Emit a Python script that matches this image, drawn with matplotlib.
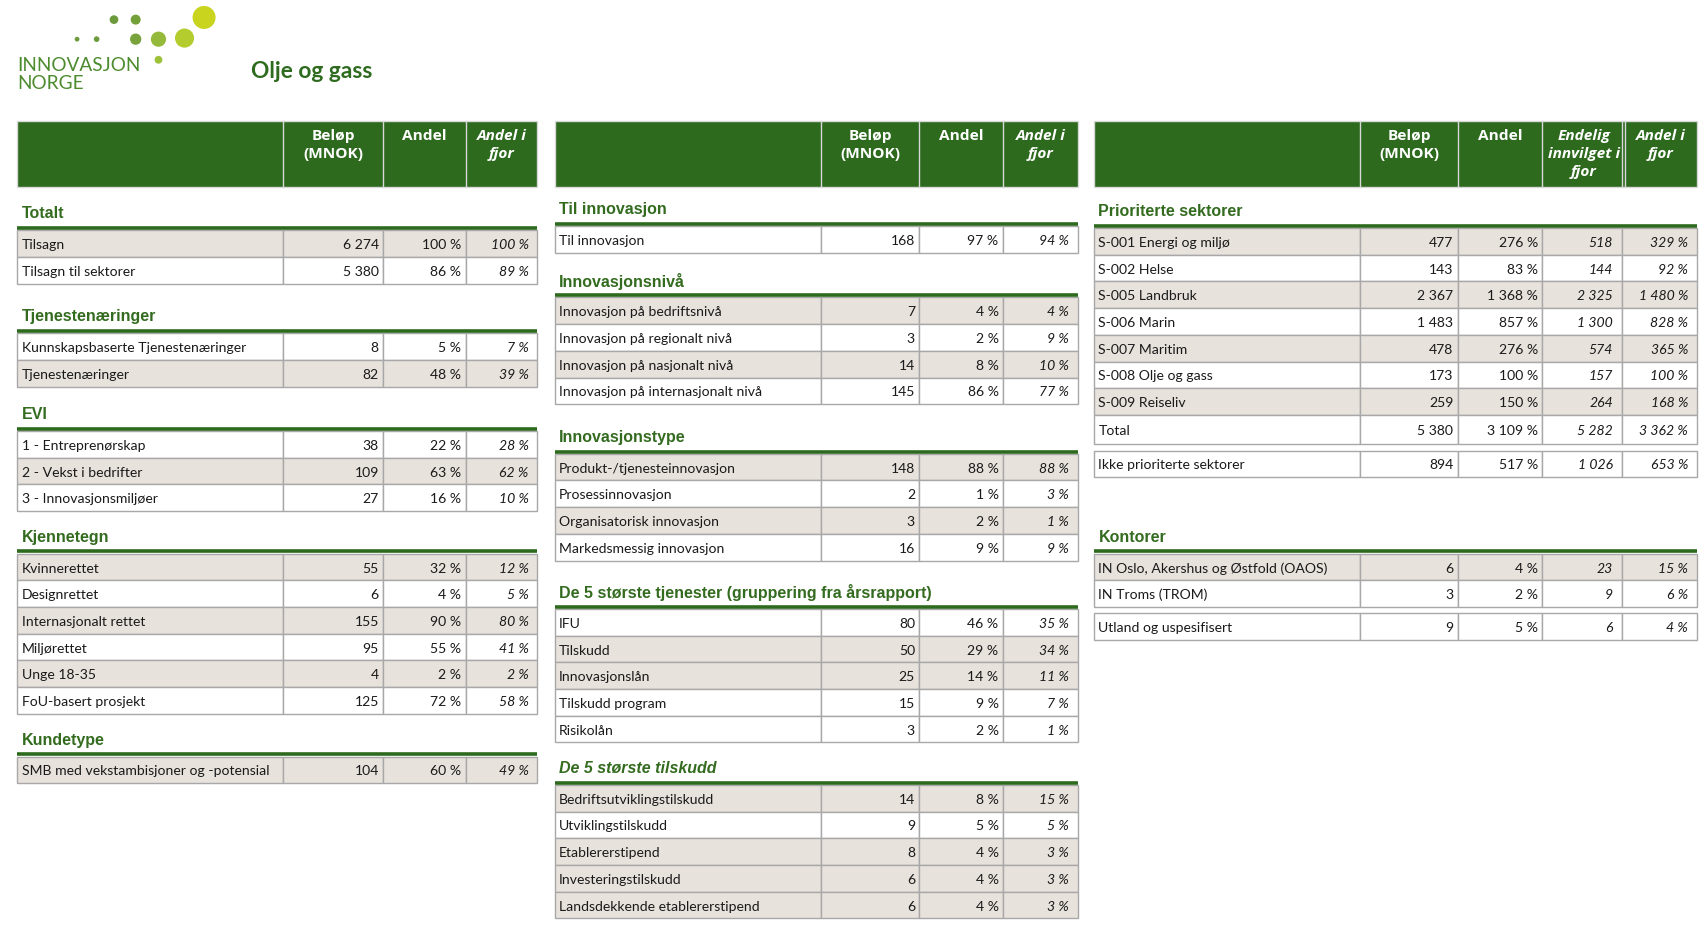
import matplotlib
matplotlib.use("Agg")
import matplotlib.pyplot as plt
from matplotlib.patches import Rectangle, Circle

# ---- data ----
totalt_labels = ["Tilsagn", "Tilsagn til sektorer"]
totalt_belop = [6274, 5380]
totalt_andel = [100, 86]
totalt_fjor = [100, 89]

tjen_labels = ["Kunnskapsbaserte Tjenestenæringer", "Tjenestenæringer"]
tjen_belop = [8, 82]
tjen_andel = [5, 48]
tjen_fjor = [7, 39]

evi_labels = ["1 - Entreprenørskap", "2 - Vekst i bedrifter", "3 - Innovasjonsmiljøer"]
evi_belop = [38, 109, 27]
evi_andel = [22, 63, 16]
evi_fjor = [28, 62, 10]

kjenn_labels = ["Kvinnerettet", "Designrettet", "Internasjonalt rettet",
                "Miljørettet", "Unge 18-35", "FoU-basert prosjekt"]
kjenn_belop = [55, 6, 155, 95, 4, 125]
kjenn_andel = [32, 4, 90, 55, 2, 72]
kjenn_fjor = [12, 5, 80, 41, 2, 58]

kunde_labels = ["SMB med vekstambisjoner og -potensial"]
kunde_belop = [104]
kunde_andel = [60]
kunde_fjor = [49]

tilinn_labels = ["Til innovasjon"]
tilinn_belop = [168]
tilinn_andel = [97]
tilinn_fjor = [94]

nivaa_labels = ["Innovasjon på bedriftsnivå", "Innovasjon på regionalt nivå",
                "Innovasjon på nasjonalt nivå", "Innovasjon på internasjonalt nivå"]
nivaa_belop = [7, 3, 14, 145]
nivaa_andel = [4, 2, 8, 86]
nivaa_fjor = [4, 9, 10, 77]

type_labels = ["Produkt-/tjenesteinnovasjon", "Prosessinnovasjon",
               "Organisatorisk innovasjon", "Markedsmessig innovasjon"]
type_belop = [148, 2, 3, 16]
type_andel = [88, 1, 2, 9]
type_fjor = [88, 3, 1, 9]

tjenester_labels = ["IFU", "Tilskudd", "Innovasjonslån", "Tilskudd program", "Risikolån"]
tjenester_belop = [80, 50, 25, 15, 3]
tjenester_andel = [46, 29, 14, 9, 2]
tjenester_fjor = [35, 34, 11, 7, 1]

tilskudd_labels = ["Bedriftsutviklingstilskudd", "Utviklingstilskudd", "Etablererstipend",
                   "Investeringstilskudd", "Landsdekkende etablererstipend"]
tilskudd_belop = [14, 9, 8, 6, 6]
tilskudd_andel = [8, 5, 4, 4, 4]
tilskudd_fjor = [15, 5, 3, 3, 3]

sektor_labels = ["S-001 Energi og miljø", "S-002 Helse", "S-005 Landbruk", "S-006 Marin",
                 "S-007 Maritim", "S-008 Olje og gass", "S-009 Reiseliv", "Total"]
sektor_belop = [477, 143, 2367, 1483, 478, 173, 259, 5380]
sektor_andel = [276, 83, 1368, 857, 276, 100, 150, 3109]
sektor_endelig = [518, 144, 2325, 1300, 574, 157, 264, 5282]
sektor_fjor = [329, 92, 1480, 828, 365, 100, 168, 3362]

ikke_labels = ["Ikke prioriterte sektorer"]
ikke_belop = [894]
ikke_andel = [517]
ikke_endelig = [1026]
ikke_fjor = [653]

kontor_labels = ["IN Oslo, Akershus og Østfold (OAOS)", "IN Troms (TROM)"]
kontor_belop = [6, 3]
kontor_andel = [4, 2]
kontor_endelig = [23, 9]
kontor_fjor = [15, 6]

utland_labels = ["Utland og uspesifisert"]
utland_belop = [9]
utland_andel = [5]
utland_endelig = [6]
utland_fjor = [4]

# ---- style ----
GREEN = "#2D6A1E"
TITLE_GREEN = "#336B1F"
SHADE = "#E8E2DC"
GRID = "#A8A8A8"
TXT = "#1A1A1A"
BODY_FONT = "Lato"
BODY_SIZE = 12.9
ROW_H = 24.6
PT = 0.7816  # points per layout pixel

fig = plt.figure(figsize=(17.02, 9.28), dpi=100)
ax = fig.add_axes([0, 0, 1, 1])
ax.set_xlim(0, 1568)
ax.set_ylim(855, 0)
ax.axis("off")


def fmt(v, pct=False):
    s = f"{v:,}".replace(",", " ")
    return s + " %" if pct else s


def header(cols, texts, italic, top=112, bottom=173, extra=None):
    ax.add_patch(Rectangle((cols[0], top), cols[-1] - cols[0], bottom - top,
                           facecolor=GREEN, edgecolor="#D8D8D8", lw=1))
    for x in cols[1:-1]:
        ax.plot([x, x], [top, bottom], color="#D8D8D8", lw=1)
    if extra:
        ax.plot([extra, extra], [top, bottom], color="#D8D8D8", lw=1)
    for i, (t, it) in enumerate(zip(texts, italic)):
        x0 = cols[i + 1]
        x1 = extra if (extra and i == len(texts) - 2) else cols[i + 2]
        if extra and i == len(texts) - 1:
            x0 = extra
        ax.text((x0 + x1) / 2, top + 7, t, ha="center", va="top", color="white",
                fontsize=14.2 * PT, fontweight="bold", family="Open Sans",
                style="italic" if it else "normal", linespacing=1.36)


def section(title, x0, x1, y_first, italic=False):
    ax.text(x0 + 4, y_first - 16, title, ha="left", va="center", color=TITLE_GREEN,
            fontsize=14.8 * PT, fontweight="bold", family="Liberation Sans",
            style="italic" if italic else "normal")
    ax.plot([x0, x1], [y_first - 2, y_first - 2], color=GREEN, lw=2.6,
            solid_capstyle="butt")


def table(cols, y_first, labels, values, shade, italic_cols, last_h=None):
    y = y_first
    n = len(labels)
    pads = [8 if it else 4 for it in italic_cols]
    for r in range(n):
        h = last_h if (last_h and r == n - 1) else ROW_H
        fc = SHADE if shade[r] else "white"
        for c in range(len(cols) - 1):
            ax.add_patch(Rectangle((cols[c], y), cols[c + 1] - cols[c], h,
                                   facecolor=fc, edgecolor=GRID, lw=1.0))
        ym = y + h / 2 + 0.5
        ax.text(cols[0] + 4, ym, labels[r], ha="left", va="center", color=TXT,
                fontsize=BODY_SIZE * PT, family=BODY_FONT)
        for c, (vals, pct) in enumerate(values):
            ax.text(cols[c + 2] - pads[c], ym, fmt(vals[r], pct), ha="right", va="center",
                    color=TXT, fontsize=BODY_SIZE * PT, family=BODY_FONT,
                    style="italic" if italic_cols[c] else "normal")
        y += h


# ---- logo ----
logo_x = [71, 89, 105, 125, 125, 146, 170, 188, 146]
logo_y = [37, 37, 19, 19, 37, 37, 36, 17, 56]
logo_r = [2.2, 2.6, 4.0, 4.6, 5.2, 7.0, 8.8, 10.6, 3.6]
logo_c = ["#6C9A3C", "#6C9A3C", "#6C9A3C", "#74A03A", "#78A23A", "#95B93A",
          "#B5CC2E", "#C9D41E", "#9EC13A"]
for x, y, r, c in zip(logo_x, logo_y, logo_r, logo_c):
    ax.add_patch(Circle((x, y), r, facecolor=c, edgecolor="none"))
ax.text(16, 60, "INNOVASJON", ha="left", va="center", color="#4C8B2E",
        fontsize=17.5 * PT, family="Lato")
ax.text(16, 77, "NORGE", ha="left", va="center", color="#4C8B2E",
        fontsize=17.5 * PT, family="Lato")
ax.text(231, 66, "Olje og gass", ha="left", va="center", color="#2E6B1F",
        fontsize=21 * PT, fontweight="bold", family="Lato")

# ---- left panel ----
L = [16, 261, 353, 429, 495]
header(L, ["Beløp\n(MNOK)", "Andel", "Andel i\nfjor"], [False, False, True])
it3 = [False, False, True]
section("Totalt", L[0], L[-1], 213)
table(L, 213, totalt_labels, [(totalt_belop, False), (totalt_andel, True), (totalt_fjor, True)], [1, 0], it3)
section("Tjenestenæringer", L[0], L[-1], 308)
table(L, 308, tjen_labels, [(tjen_belop, False), (tjen_andel, True), (tjen_fjor, True)], [0, 1], it3)
section("EVI", L[0], L[-1], 398)
table(L, 398, evi_labels, [(evi_belop, False), (evi_andel, True), (evi_fjor, True)], [0, 1, 0], it3)
section("Kjennetegn", L[0], L[-1], 511)
table(L, 511, kjenn_labels, [(kjenn_belop, False), (kjenn_andel, True), (kjenn_fjor, True)],
      [1, 0, 1, 0, 1, 0], it3)
section("Kundetype", L[0], L[-1], 698)
table(L, 698, kunde_labels, [(kunde_belop, False), (kunde_andel, True), (kunde_fjor, True)], [1], it3)

# ---- middle panel ----
M = [511, 756, 847, 924, 993]
header(M, ["Beløp\n(MNOK)", "Andel", "Andel i\nfjor"], [False, False, True])
section("Til innovasjon", M[0], M[-1], 209)
table(M, 209, tilinn_labels, [(tilinn_belop, False), (tilinn_andel, True), (tilinn_fjor, True)], [0], it3)
section("Innovasjonsnivå", M[0], M[-1], 275)
table(M, 275, nivaa_labels, [(nivaa_belop, False), (nivaa_andel, True), (nivaa_fjor, True)], [1, 0, 1, 0], it3)
section("Innovasjonstype", M[0], M[-1], 419)
table(M, 419, type_labels, [(type_belop, False), (type_andel, True), (type_fjor, True)], [1, 0, 1, 0], it3)
section("De 5 største tjenester (gruppering fra årsrapport)", M[0], M[-1], 562)
table(M, 562, tjenester_labels, [(tjenester_belop, False), (tjenester_andel, True), (tjenester_fjor, True)],
      [0, 1, 1, 0, 0], it3)
section("De 5 største tilskudd", M[0], M[-1], 724, italic=True)
table(M, 724, tilskudd_labels, [(tilskudd_belop, False), (tilskudd_andel, True), (tilskudd_fjor, True)],
      [1, 0, 1, 1, 1], it3)

# ---- right panel ----
R = [1008, 1253, 1343, 1421, 1494, 1563]
header(R, ["Beløp\n(MNOK)", "Andel", "Endelig\ninnvilget i\nfjor", "Andel i\nfjor"],
       [False, False, True, True], extra=1497)
it4 = [False, False, True, True]
section("Prioriterte sektorer", R[0], R[-1], 211)
table(R, 211, sektor_labels, [(sektor_belop, False), (sektor_andel, True), (sektor_endelig, False),
                              (sektor_fjor, True)], [1, 0, 1, 0, 1, 0, 1, 0], it4, last_h=27)
table(R, 416, ikke_labels, [(ikke_belop, False), (ikke_andel, True), (ikke_endelig, False),
                            (ikke_fjor, True)], [0], it4)
section("Kontorer", R[0], R[-1], 511)
table(R, 511, kontor_labels, [(kontor_belop, False), (kontor_andel, True), (kontor_endelig, False),
                              (kontor_fjor, True)], [1, 0], it4)
table(R, 566, utland_labels, [(utland_belop, False), (utland_andel, True), (utland_endelig, False),
                              (utland_fjor, True)], [0], it4)

fig.savefig("out.png", dpi=100, facecolor="white")
